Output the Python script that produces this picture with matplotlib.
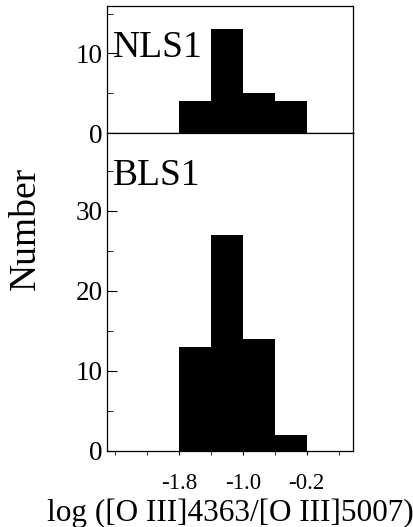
import matplotlib
matplotlib.use("Agg")
import matplotlib.pyplot as plt

plt.rcParams['font.family'] = ['Liberation Serif', 'DejaVu Serif']

bin_edges = [-1.8, -1.4, -1.0, -0.6, -0.2]
nls1_counts = [4, 13, 5, 4]
bls1_counts = [13, 27, 14, 2]

fig = plt.figure(figsize=(4.14, 5.27), dpi=100)
W, H = 414, 527
left, right = 107 / W, 353 / W
ax_top = fig.add_axes([left, 1 - 133 / H, right - left, (133 - 6) / H])
ax_bot = fig.add_axes([left, 1 - 451 / H, right - left, (451 - 133) / H])

widths = [bin_edges[i + 1] - bin_edges[i] for i in range(len(bin_edges) - 1)]
ax_top.bar(bin_edges[:-1], nls1_counts, width=widths, align='edge', color='black', linewidth=0)
ax_bot.bar(bin_edges[:-1], bls1_counts, width=widths, align='edge', color='black', linewidth=0)

for ax in (ax_top, ax_bot):
    ax.set_xlim(-2.7, 0.38)
    for s in ax.spines.values():
        s.set_linewidth(0.9)

ax_top.set_ylim(0, 15.95)
ax_top.set_yticks([0, 10])
ax_top.set_yticks([5, 15], minor=True)
ax_top.set_xticks([])
ax_top.tick_params(axis='y', which='major', direction='in', length=7, labelsize=19.5, pad=3)
ax_top.tick_params(axis='y', which='minor', direction='in', length=4)
ax_top.text(0.024, 9.6, 'NLS1', transform=ax_top.get_yaxis_transform(), fontsize=27,
            va='baseline', ha='left')

ax_bot.set_ylim(0, 39.75)
ax_bot.set_yticks([0, 10, 20, 30])
ax_bot.set_yticks([5, 15, 25, 35], minor=True)
ax_bot.set_xticks([-1.8, -1.0, -0.2])
ax_bot.set_xticklabels(['-1.8', '-1.0', '-0.2'])
ax_bot.set_xticks([-2.6, -2.2, -1.4, -0.6, 0.2], minor=True)
ax_bot.tick_params(axis='y', which='major', direction='in', length=7, labelsize=19.5, pad=3)
ax_bot.tick_params(axis='y', which='minor', direction='in', length=4)
ax_bot.tick_params(axis='x', which='both', direction='out', length=3, labelsize=16.5, pad=13)
ax_bot.text(0.024, 33.25, 'BLS1', transform=ax_bot.get_yaxis_transform(), fontsize=27,
            va='baseline', ha='left')

ax_bot.set_xlabel('log ([O III]4363/[O III]5007)', fontsize=22.5, labelpad=3)
fig.text(26 / W, 1 - 228 / H, 'Number', rotation=90, fontsize=27, ha='center', va='center')

fig.savefig('out.png', dpi=100)
